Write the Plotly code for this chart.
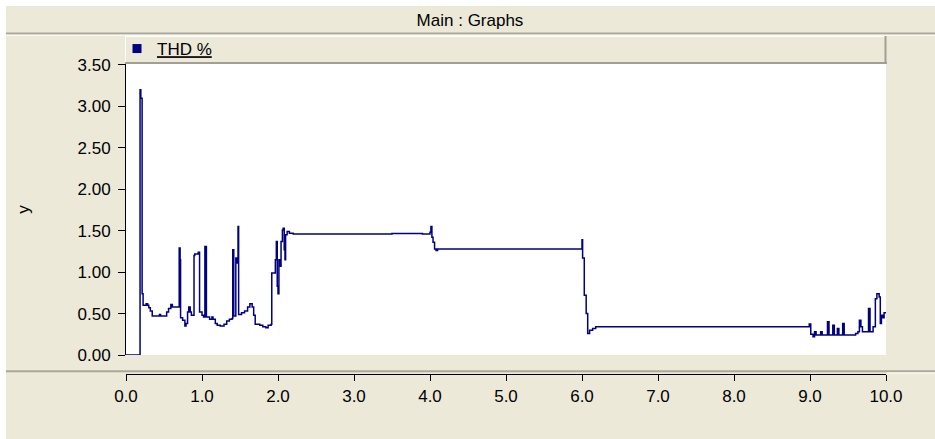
import plotly.graph_objects as go

# ---------------- data (step breakpoints) ----------------
time_s = [0.00, 0.185, 0.195, 0.212, 0.225, 0.265, 0.285, 0.300, 0.320, 0.345,
          0.440, 0.455, 0.535, 0.560, 0.590, 0.610, 0.700, 0.712, 0.718, 0.745,
          0.775, 0.790, 0.810, 0.825, 0.845, 0.860, 0.895, 0.905, 0.950, 0.968,
          1.000, 1.020, 1.038, 1.058, 1.100, 1.130, 1.145, 1.175, 1.200, 1.240,
          1.290, 1.325, 1.360, 1.395, 1.405, 1.418, 1.445, 1.465, 1.474, 1.482,
          1.520, 1.560, 1.600, 1.630, 1.660, 1.680, 1.700, 1.760, 1.800, 1.840,
          1.870, 1.910, 1.918, 1.965, 1.978, 1.990, 2.000, 2.012, 2.025, 2.040,
          2.058, 2.068, 2.082, 2.092, 2.100, 2.120, 2.150, 2.200, 2.500, 3.000,
          3.500, 3.900, 4.000, 4.012, 4.025, 4.040, 4.060, 4.080, 4.100, 5.000,
          6.000, 6.008, 6.030, 6.055, 6.075, 6.100, 6.140, 6.180, 7.000, 8.000,
          8.990, 9.010, 9.040, 9.060, 9.080, 9.140, 9.160, 9.230, 9.250, 9.300,
          9.320, 9.360, 9.380, 9.430, 9.450, 9.600, 9.630, 9.650, 9.670, 9.690,
          9.770, 9.790, 9.830, 9.860, 9.880, 9.910, 9.925, 9.940, 9.960, 9.975,
          10.00]
thd_pct = [0.00, 3.20, 3.10, 0.74, 0.60, 0.62, 0.60, 0.57, 0.53, 0.47,
           0.49, 0.47, 0.52, 0.56, 0.61, 0.58, 1.29, 1.15, 0.45, 0.42,
           0.35, 0.38, 0.52, 0.58, 0.52, 0.48, 1.20, 1.22, 1.24, 0.52,
           0.48, 0.46, 1.31, 0.46, 0.43, 0.46, 0.43, 0.38, 0.36, 0.35,
           0.37, 0.41, 0.43, 0.44, 1.27, 0.47, 1.17, 1.11, 1.55, 0.49,
           0.51, 0.53, 0.58, 0.62, 0.58, 0.48, 0.37, 0.36, 0.34, 0.33,
           0.36, 0.37, 0.99, 1.15, 1.37, 0.83, 0.74, 1.15, 1.07, 1.37,
           1.51, 1.53, 1.27, 1.15, 1.45, 1.49, 1.47, 1.46, 1.46, 1.46,
           1.465, 1.46, 1.48, 1.55, 1.42, 1.36, 1.28, 1.26, 1.28, 1.28,
           1.39, 1.17, 0.72, 0.50, 0.26, 0.30, 0.32, 0.34, 0.34, 0.34,
           0.375, 0.25, 0.22, 0.28, 0.24, 0.28, 0.24, 0.40, 0.24, 0.36,
           0.24, 0.32, 0.24, 0.38, 0.24, 0.26, 0.28, 0.42, 0.34, 0.28,
           0.56, 0.28, 0.34, 0.68, 0.74, 0.70, 0.38, 0.48, 0.45, 0.51,
           0.51]
series_name = "THD %"
x_ticks = [0, 1, 2, 3, 4, 5, 6, 7, 8, 9, 10]
y_ticks = [0.0, 0.5, 1.0, 1.5, 2.0, 2.5, 3.0, 3.5]

# ---------------- layout geometry (pixels) ----------------
W, H = 935, 439
L, R, T, B = 126, 886, 64, 374      # plot-area box in pixels
Y0PX = 355                           # bottom of white data area
BEIGE = "#ECE9D8"
GREY = "#ACA899"
NAVY = "#000080"
FONT = "Liberation Sans, Arial, sans-serif"


def fx(px):
    return (px - L) / (R - L)


def fy(py):
    return (B - py) / (B - T)


fig = go.Figure()
fig.add_trace(go.Scatter(x=time_s, y=thd_pct, mode="lines", line_shape="hv",
                         line=dict(color=NAVY, width=1.5), showlegend=False,
                         hoverinfo="x+y"))
# legend entry (square swatch as in the reference)
fig.add_trace(go.Scatter(x=[None], y=[None], mode="markers",
                         marker=dict(symbol="square", size=9, color=NAVY),
                         name="<u>" + series_name + "</u>", showlegend=True))

shapes = []


def rect(x0, y0, x1, y1, color):
    shapes.append(dict(type="rect", xref="paper", yref="paper",
                       x0=fx(x0), x1=fx(x1), y0=fy(y0), y1=fy(y1),
                       fillcolor=color, line=dict(width=0), layer="below"))


def hline(x0, x1, y, color, w):
    shapes.append(dict(type="line", xref="paper", yref="paper",
                       x0=fx(x0), x1=fx(x1), y0=fy(y), y1=fy(y),
                       line=dict(color=color, width=w), layer="below"))


def vline(x, y0, y1, color, w):
    shapes.append(dict(type="line", xref="paper", yref="paper",
                       x0=fx(x), x1=fx(x), y0=fy(y0), y1=fy(y1),
                       line=dict(color=color, width=w), layer="below"))


rect(0, 0, W, 6, "white")
rect(0, 0, 6, H, "white")
hline(6, W, 33.5, GREY, 2)
hline(6, W, 35.2, "white", 1)
# legend box with 3D border
vline(125.5, 36, 64, "white", 1)
hline(125, 886, 36.5, "white", 1)
vline(885.5, 36, 64, "#A19E93", 2)
hline(125, 887, 63, "#A19E93", 2)
# separator above the x axis
hline(6, W, 371.3, GREY, 2)
hline(887, W, 373, "white", 1)

fig.update_layout(
    width=W, height=H,
    margin=dict(l=L, r=W - R, t=T, b=H - B, pad=0),
    paper_bgcolor=BEIGE, plot_bgcolor="white",
    font=dict(family=FONT, size=17, color="black"),
    title=dict(text="Main : Graphs", xref="container", yref="container",
               x=470 / W, y=1 - 20 / H, xanchor="center", yanchor="middle",
               font=dict(family=FONT, size=17, color="black")),
    shapes=shapes,
    showlegend=True,
    legend=dict(x=fx(117), y=fy(31), xanchor="left", yanchor="top",
                bgcolor="rgba(0,0,0,0)", borderwidth=0,
                font=dict(family=FONT, size=17, color="black")),
    xaxis=dict(range=[0, 10], anchor="free", position=0,
               tickmode="array", tickvals=x_ticks,
               ticktext=[f"{v:.1f}" for v in x_ticks],
               showline=True, linecolor="black", linewidth=1,
               ticks="outside", ticklen=6, tickcolor="black", tickwidth=1,
               showgrid=False, zeroline=False, ticklabelstandoff=1),
    yaxis=dict(range=[0, 3.512], domain=[fy(Y0PX), 1],
               tickmode="array", tickvals=y_ticks,
               ticktext=[f"{v:.2f}" for v in y_ticks],
               showline=True, linecolor="black", linewidth=1,
               ticks="outside", ticklen=7, tickcolor="black", tickwidth=1,
               showgrid=False, zeroline=False, ticklabelstandoff=4,
               title=dict(text="y", standoff=43,
                          font=dict(family=FONT, size=17, color="black"))),
)

fig.write_html("out.html", config={"displayModeBar": False})
